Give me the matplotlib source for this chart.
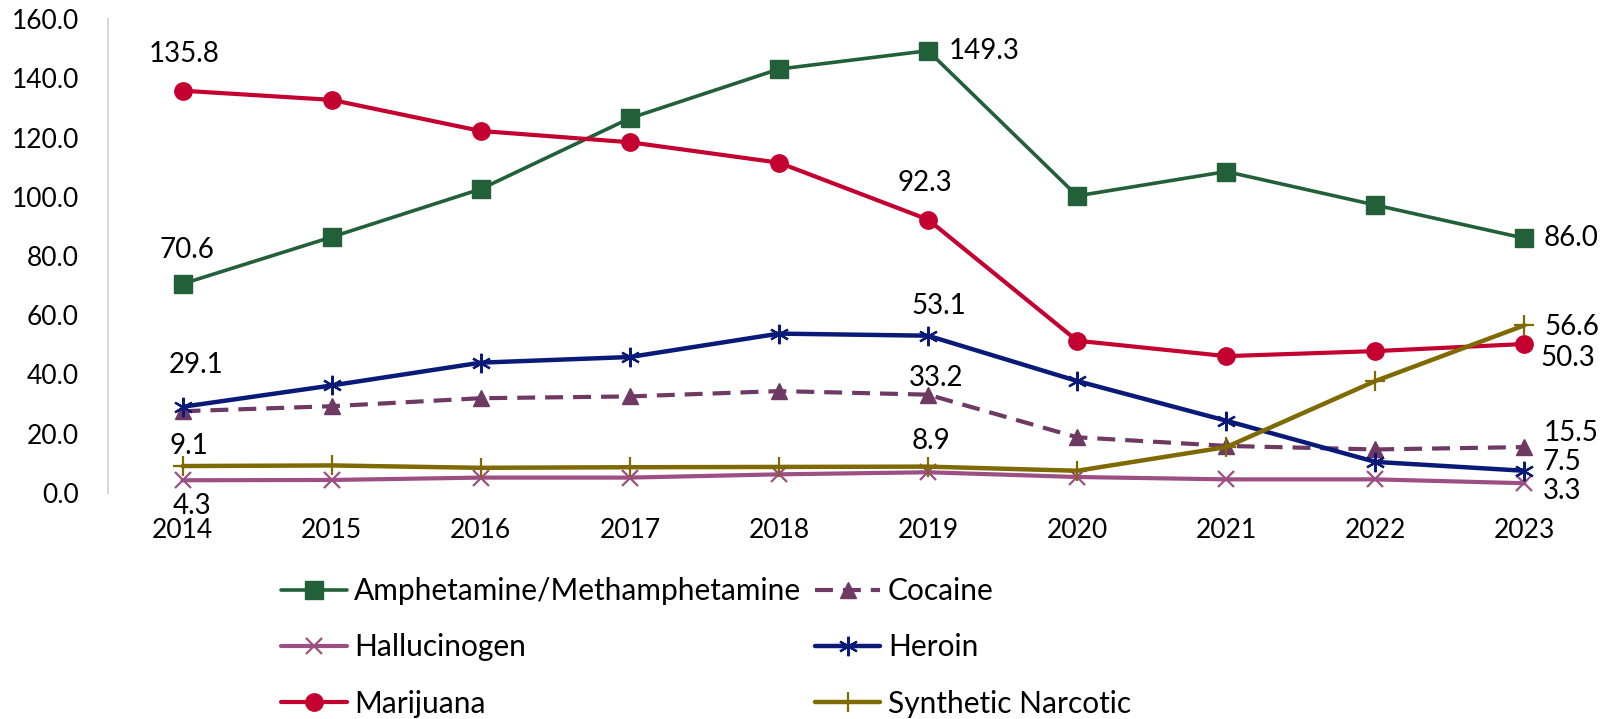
import matplotlib
matplotlib.use("Agg")
import matplotlib.pyplot as plt

plt.rcParams['font.family'] = ['Lato', 'DejaVu Sans']

years = ['2014', '2015', '2016', '2017', '2018', '2019', '2020', '2021', '2022', '2023']
amph = [70.6, 86.4, 102.6, 126.5, 143.1, 149.3, 100.3, 108.5, 97.2, 86.0]
cocaine = [27.6, 29.3, 32.0, 32.6, 34.4, 33.2, 18.8, 15.9, 14.7, 15.5]
halluc = [4.3, 4.4, 5.2, 5.2, 6.3, 7.0, 5.4, 4.6, 4.6, 3.3]
heroin = [29.1, 36.3, 44.0, 45.9, 53.8, 53.1, 37.8, 24.4, 10.5, 7.5]
marij = [135.8, 132.7, 122.2, 118.4, 111.5, 92.3, 51.4, 46.2, 47.9, 50.3]
synth = [9.1, 9.3, 8.5, 8.7, 8.8, 8.9, 7.5, 15.5, 37.8, 56.6]
names = ['Amphetamine/Methamphetamine', 'Cocaine', 'Hallucinogen', 'Heroin',
         'Marijuana', 'Synthetic Narcotic']
y_ticks = [0, 20, 40, 60, 80, 100, 120, 140, 160]

fig = plt.figure(figsize=(16.14, 7.19), dpi=100)
ax = fig.add_axes([108/1614, 1-493/719, (1599-108)/1614, (493-19)/719])

x = list(range(len(years)))
styles = [
    dict(color='#22603A', marker='s', ms=13, lw=2.6),
    dict(color='#6E3A63', marker='^', ms=12, lw=3.0, ls=(0, (4.3, 2.4))),
    dict(color='#9C4F82', marker='x', ms=12, mew=1.6, lw=3.0),
    dict(color='#0A1A78', marker=(6, 2, 0), ms=14, mew=1.6, lw=3.2),
    dict(color='#C40030', marker='o', ms=12.5, lw=3.0),
    dict(color='#7E6A00', marker='+', ms=14, mew=1.6, lw=3.2),
]
series = [amph, cocaine, halluc, heroin, marij, synth]
lines = []
for vals, name, st in zip(series, names, styles):
    ln, = ax.plot(x, vals, label=name, solid_capstyle='round', **st)
    lines.append(ln)

# data labels: (series index, point index, dx px, dy px)
labels = [
    (4, 0, 2, 37), (0, 0, 4, 34), (3, 0, 14, 42), (5, 0, 6, 20), (2, 0, 9, -26),
    (0, 5, 56, 0), (4, 5, -3, 37), (3, 5, 11, 30), (1, 5, 8, 17), (5, 5, 3, 26),
    (0, 9, 47, 0), (5, 9, 47, -2), (4, 9, 43, -14), (1, 9, 47, 14),
    (3, 9, 37, 9), (2, 9, 38, -8),
]
for si, pi, dx, dy in labels:
    v = series[si][pi]
    ax.annotate(f'{v:.1f}', (x[pi], v), xytext=(dx, dy), textcoords='offset pixels',
                ha='center', va='center', fontsize=20, color='black')

ax.set_xlim(-0.5, 9.5)
ax.set_ylim(0, 160)
ax.set_yticks(y_ticks)
ax.set_yticklabels([f'{t:.1f}' for t in y_ticks], fontsize=19)
ax.set_xticks(x)
ax.set_xticklabels(years, fontsize=19)
ax.tick_params(axis='y', length=0, pad=21)
ax.tick_params(axis='x', length=0, pad=18)
for s in ['top', 'right', 'bottom']:
    ax.spines[s].set_visible(False)
ax.spines['left'].set_color('#D9D9D9')
ax.spines['left'].set_linewidth(1.5)

order = [0, 2, 4, 1, 3, 5]
leg = fig.legend([lines[i] for i in order], [names[i] for i in order], ncol=2,
                 loc='upper left', bbox_to_anchor=(281/1614, 1-577/719),
                 frameon=False, fontsize=21.5, handlelength=2.2, handletextpad=0.25,
                 labelspacing=0.95, columnspacing=0.45, borderpad=0, borderaxespad=0)

fig.savefig('out.png', dpi=100)
